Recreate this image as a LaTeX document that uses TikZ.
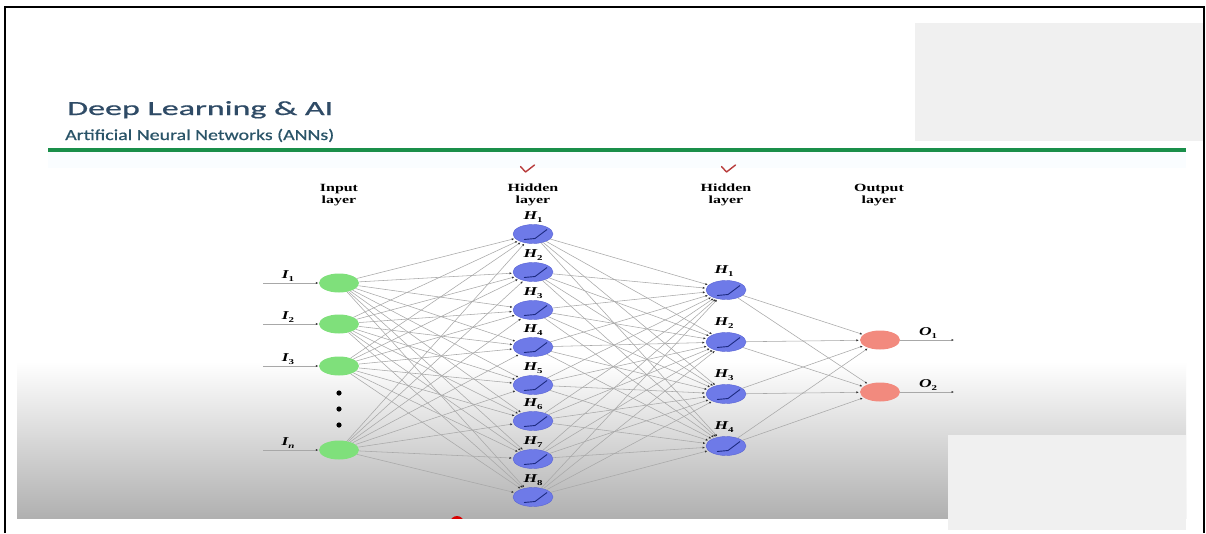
\documentclass[tikz,border=0pt]{standalone}
\usepackage{fontspec}
\usetikzlibrary{shapes.geometric,arrows.meta,calc}

\newfontfamily\headfont[FakeBold=0.6]{Carlito}
\newfontfamily\labfont[FakeStretch=1.45]{Liberation Serif}

\definecolor{titleblue}{HTML}{2F4B66}
\definecolor{subblue}{HTML}{2A5468}
\definecolor{rulegreen}{HTML}{1A8F4A}
\definecolor{inpgreen}{HTML}{7FE07B}
\definecolor{hidblue}{HTML}{6E7AE8}
\definecolor{hidedge}{HTML}{5A64D4}
\definecolor{outsalmon}{HTML}{F28A7E}
\definecolor{conngray}{HTML}{A8A8A8}
\definecolor{reluline}{HTML}{1C2A80}
\definecolor{panelgray}{HTML}{F0F0F0}
\definecolor{checkred}{HTML}{B83C3C}

% subscripted neuron label, e.g. \nlab{H}{3}
\newcommand\nlab[2]{{\labfont\bfseries\itshape #1}\raisebox{-0.45ex}{\labfont\bfseries\fontsize{7.5}{7.5}\selectfont #2}}

\tikzset{
  neuron/.style={ellipse, minimum width=40pt, minimum height=19pt, inner sep=0pt},
  inpnode/.style={neuron, fill=inpgreen},
  hidnode/.style={neuron, fill=hidblue, draw=hidedge, line width=0.4pt},
  outnode/.style={neuron, fill=outsalmon},
  conn/.style={draw=conngray, line width=0.55pt, shorten >=1pt,
    -{Latex[length=2.4pt,width=2.2pt,color=black!80]}},
  relu/.style={draw=reluline, line width=0.9pt},
  layerlab/.style={font=\labfont\bfseries\fontsize{11}{12}\selectfont, align=center, inner sep=0pt, anchor=north},
  nlabel/.style={font=\fontsize{12}{12}\selectfont, inner sep=0pt},
  tick/.style={draw=checkred, line width=1.4pt, line cap=round, line join=round},
}

\begin{document}
\begin{tikzpicture}[x=1pt,y=-1pt]
\useasboundingbox (0,0) rectangle (1206,533);
\fill[white] (0,0) rectangle (1206,533);

% shaded lower band
\shade[top color=white, middle color=white!88!black, bottom color=white!69!black]
  (17,362) rectangle (1186,518);

% heading
\fill[cyan!2] (48,151) rectangle (1186,168);
\node[anchor=base west, inner sep=0pt, text=titleblue] (title) at (67,115)
  {\resizebox{266pt}{13.8pt}{\headfont Deep Learning \& AI}};
\node[anchor=base west, inner sep=0pt, text=subblue] (subtitle) at (65,140)
  {\resizebox{269pt}{11.2pt}{\headfont Artificial Neural Networks (ANNs)}};
\fill[rulegreen] (48,147.5) rectangle (1186,152);

% layer captions
\node[layerlab] (capin) at (339,184) {Input\\layer};
\node[layerlab] (caph1) at (533,184) {Hidden\\layer};
\node[layerlab] (caph2) at (726,184) {Hidden\\layer};
\node[layerlab] (capout) at (879,184) {Output\\layer};
\draw[tick] (520.5,166.5) -- (525.5,172) -- (534.5,165);
\draw[tick] (721.5,166.5) -- (726.5,172) -- (735.5,165);

% input layer
\node[inpnode] (i1) at (339,283) {};
\node[inpnode] (i2) at (339,324) {};
\node[inpnode] (i3) at (339,366) {};
\node[inpnode] (in) at (339,450) {};
\foreach \y in {393,409,425} \fill[black] (339,\y) circle (2.6pt);

% first hidden layer
\foreach \j/\y in {1/234,2/272,3/310,4/347,5/385,6/421,7/459,8/497} {
  \node[hidnode] (a\j) at (533,\y) {};
  \node[nlabel] (la\j) at (533,\y-17) {\nlab{H}{\j}};
}
% second hidden layer
\foreach \j/\y in {1/290,2/342,3/394,4/446} {
  \node[hidnode] (b\j) at (726,\y) {};
  \node[nlabel] (lb\j) at (724,\y-19) {\nlab{H}{\j}};
}
% output layer
\node[outnode] (o1) at (880,340) {};
\node[outnode] (o2) at (880,392) {};

% input arrows
\foreach \k/\y/\s in {1/283/1,2/324/2,3/366/3,n/450/\textit{n}} {
  \coordinate (ia\k) at (263,\y);
  \draw[conn, shorten >=0.5pt] (ia\k) -- (i\k);
  \node[nlabel] (li\k) at (288,\y-7) {\nlab{I}{\s}};
}

% weights
\foreach \k in {1,2,3,n} \foreach \j in {1,...,8} \draw[conn] (i\k) -- (a\j);
\foreach \j in {1,...,8} \foreach \m in {1,...,4} \draw[conn] (a\j) -- (b\m);
\foreach \m in {1,...,4} \foreach \o in {1,2} \draw[conn] (b\m) -- (o\o);

% output arrows
\foreach \o/\y in {1/340,2/392} {
  \coordinate (oa\o) at (955,\y);
  \draw[conn] (o\o) -- (oa\o);
  \node[nlabel] (lo\o) at (928,\y-7) {\nlab{O}{\o}};
}

% activation glyphs in hidden neurons
\foreach \j in {1,...,8}
  \draw[relu] ($(a\j)+(-9,5.5)$) -- ($(a\j)+(2,4.5)$) -- ($(a\j)+(14,-4.5)$);
\foreach \m in {1,...,4}
  \draw[relu] ($(b\m)+(-9,5.5)$) -- ($(b\m)+(2,4.5)$) -- ($(b\m)+(14,-4.5)$);

% small red marker at the lower edge
\begin{scope}
  \clip (440,505) rectangle (472,518);
  \fill[red!85!black] (457,523) circle (7pt);
\end{scope}

% grey panels
\fill[panelgray] (915,23) rectangle (1203,141);
\fill[panelgray] (948,435) rectangle (1186,530);

% frame
\draw[black, line width=2pt] (5,533) -- (5,7) -- (1204,7) -- (1204,533);
\end{tikzpicture}
\end{document}
